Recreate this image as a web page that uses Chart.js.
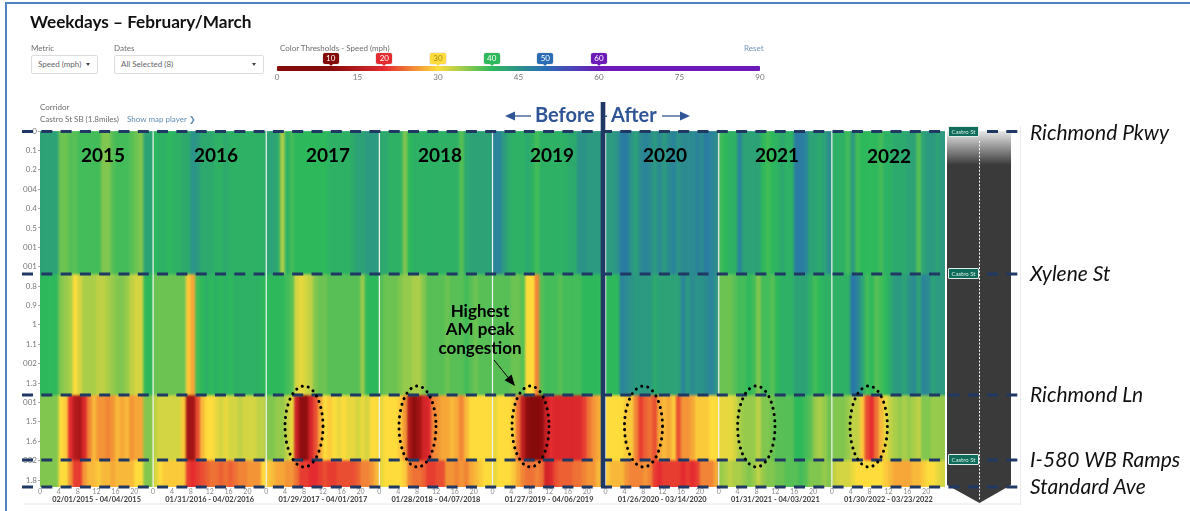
<!DOCTYPE html>
<html><head><meta charset="utf-8">
<script src="https://cdn.jsdelivr.net/npm/chart.js@4"></script>
<style>
html,body{margin:0;padding:0;width:1190px;height:511px;overflow:hidden;background:#fff;font-family:Lato,sans-serif}
canvas{position:absolute;left:0;top:0}
.t{position:absolute;white-space:nowrap;line-height:1}
.ui{color:#6d6d6d;font-size:8px}
.sel{position:absolute;box-sizing:border-box;border:1px solid #dcdcdc;border-radius:2px;height:19px;top:55px;font-size:8px;color:#666;line-height:17px;padding-left:6px;background:#fff}
.sel:after{content:"";position:absolute;right:7px;top:7px;border-left:2.5px solid transparent;border-right:2.5px solid transparent;border-top:3px solid #444}
.h{position:absolute;top:53px;height:11px;width:16px;border-radius:2px;color:#fff;font-size:8px;line-height:11px;text-align:center;box-shadow:0 0 0 .6px #ddd}
.h:after{content:"";position:absolute;left:6px;top:11px;border-left:2px solid transparent;border-right:2px solid transparent;border-top:2px solid;border-top-color:inherit}
.yr{font-weight:700;font-size:19px;color:#000;transform:translateX(-50%)}
.st{font-style:italic;font-size:21px;color:#111;left:1030px;transform:translateY(-50%)}
.sign{position:absolute;left:948px;width:29px;height:9px;background:#0f6b5a;border:1px solid #dfeee8;border-radius:1px;color:#d8eee6;font-size:6px;line-height:9px;text-align:center;overflow:hidden}
</style></head><body>
<canvas id="c" width="1190" height="511"></canvas>
<div id="ov"></div>
<script>
// ---- categories / labels ----
const years = ['2015','2016','2017','2018','2019','2020','2021','2022'];
const panelDates = ['02/01/2015 - 04/04/2015','01/31/2016 - 04/02/2016','01/29/2017 - 04/01/2017','01/28/2018 - 04/07/2018','01/27/2019 - 04/06/2019','01/26/2020 - 03/14/2020','01/31/2021 - 04/03/2021','01/30/2022 - 03/23/2022'];
const yTickLabels = ['0','0.1','0.2','004','0.4','0.5','001','001','0.8','0.9','1','1.1','002','1.3','001','1.5','1.6','002','1.8'];
const crossStreets = ['Richmond Pkwy','Xylene St','Richmond Ln','I-580 WB Ramps','Standard Ave'];
const zoneEdges = [0,0.7375,1.361,1.697,1.836]; // miles along corridor
const thresholdValues = [10,20,30,40,50,60];
const thresholdColors = ['#850a0a','#e42b30','#fddc3c','#2eb85c','#2a6db5','#6c1bb8'];

// ---- speeds (mph): one row per year, one value per hour ----
const segPkwyXylene = [
[43,43,43,43,37,37,38,38,39,39,39,39,39,36,36,38,39,39,39,38,37,36,43,43],
[40,41,41,40,41,41,42,42,45,44,42,42,42,41,41,42,41,41,41,41,41,41,41,41],
[43,43,42,34,41,39,40,40,40,40,40,40,40,41,41,41,41,41,42,43,43,44,44,44],
[42,42,41,41,41,36,40,41,41,41,41,41,41,41,41,41,41,38,42,43,43,43,43,43],
[47,47,44,42,41,41,41,42,41,39,41,41,41,41,41,41,42,42,45,45,44,44,44,44],
[44,44,45,48,48,45,43,46,47,46,44,46,44,46,47,45,46,46,46,47,46,48,47,46],
[39,40,41,41,47,43,43,43,43,40,39,40,41,42,41,41,48,48,47,43,43,42,43,46],
[41,41,41,39,44,39,40,40,40,40,39,41,41,42,42,42,43,43,38,43,44,44,43,44]];
const segXyleneRichmond = [
[40,40,40,40,36,35,34,30,32,34,34,34,33,33,34,35,36,36,35,33,32,32,40,40],
[37,37,37,37,37,37,37,29,27,39,40,41,40,41,40,41,40,41,41,41,41,41,41,40],
[40,40,40,40,39,38,32,31,32,33,36,37,37,38,38,38,38,38,38,38,35,40,40,40],
[38,37,37,37,36,35,35,34,34,36,38,38,38,38,37,38,38,38,39,38,37,38,38,38],
[38,38,38,38,37,37,38,30,30,25,38,39,39,39,38,39,39,39,39,40,40,40,40,39],
[40,40,40,47,46,45,44,44,44,44,42,43,43,43,43,43,47,44,46,45,45,46,47,45],
[37,37,37,38,39,39,40,39,36,39,39,38,40,41,41,41,43,43,43,41,39,40,41,41],
[41,41,41,41,49,47,43,39,40,38,39,40,42,44,44,43,45,46,43,47,46,43,44,44]];
const segRichmondRamps = [
[36,36,36,36,30,29,20,15,14,19,25,28,26,26,25,26,28,27,28,26,27,27,36,36],
[33,32,32,32,32,32,29,13,13,22,28,30,30,31,32,31,32,32,33,32,32,32,33,33],
[36,36,35,35,33,31,17,11,11,18,22,27,30,29,30,31,30,31,31,32,31,32,30,30],
[31,30,30,30,29,26,14,11,13,18,19,25,26,27,27,28,27,25,28,30,30,30,30,30],
[31,30,30,30,29,24,16,11,10,10,11,17,20,19,19,19,19,19,19,21,24,26,27,29],
[30,30,30,30,29,29,25,21,23,24,22,27,28,27,29,22,26,26,27,29,29,29,30,30],
[31,31,31,32,34,35,35,35,33,36,36,37,38,38,38,38,40,40,39,38,35,34,35,37],
[36,36,36,35,33,33,29,22,20,24,28,31,33,34,35,34,35,34,33,36,36,35,35,35]];
const segRampsStandard = [
[36,36,36,36,30,30,26,21,21,26,28,28,29,28,28,27,28,28,28,28,30,30,36,36],
[32,30,29,29,29,29,29,21,20,21,22,23,24,24,23,24,23,24,25,25,26,26,26,30],
[29,28,27,27,26,26,24,21,21,20,20,21,22,21,21,22,22,22,22,23,25,25,26,28],
[31,30,30,30,30,29,25,24,24,23,21,21,22,22,26,26,25,26,25,27,28,29,30,30],
[31,30,30,30,29,27,25,24,24,25,24,18,19,22,23,23,23,24,24,25,26,26,28,28],
[29,28,28,28,26,25,25,25,26,25,21,20,21,21,21,21,20,21,20,21,25,25,25,27],
[35,34,33,34,34,35,36,35,33,35,36,36,37,37,38,38,38,39,38,36,36,36,35,36],
[33,32,32,32,31,30,30,30,30,30,30,29,28,27,27,27,27,28,28,29,30,30,31,32]];
const segments = [segPkwyXylene,segXyleneRichmond,segRichmondRamps,segRampsStandard];

// ---- colour scale ----
function hex(c){return [1,3,5].map(i=>parseInt(c.substr(i,2),16));}
function speedColor(v){
  const T=thresholdValues,C=thresholdColors.map(hex);
  if(v<=T[0])return 'rgb('+C[0]+')';
  for(let i=1;i<T.length;i++){ if(v<=T[i]){const f=(v-T[i-1])/(T[i]-T[i-1]);
    return 'rgb('+C[i].map((x,k)=>Math.round(C[i-1][k]+(x-C[i-1][k])*f))+')';}}
  return 'rgb('+C[C.length-1]+')';
}

// ---- datasets: one floating bar per hour and corridor segment ----
const datasets = segments.map((seg,z)=>{
  const data=[],cols=[];
  seg.forEach((row,p)=>row.forEach((v,h)=>{
    data.push({x:p*24+h+0.5,y:[zoneEdges[z],zoneEdges[z+1]],speed:v});
    cols.push(speedColor(v));
  }));
  return {label:crossStreets[z],data,backgroundColor:cols,borderWidth:0,grouped:false,categoryPercentage:1,barPercentage:1};
});

const overlay={id:'overlay',
 afterDatasetsDraw(ch){
  const g=ch.ctx,a=ch.chartArea,X=ch.scales.x,Y=ch.scales.y;
  // soften the stripes like the source screenshot
  g.save();g.beginPath();g.rect(a.left,a.top,a.width,a.height);g.clip();
  g.filter='blur(0.9px)';
  g.drawImage(ch.canvas,a.left,a.top,a.width,a.height,a.left,a.top,a.width,a.height);
  g.filter='none';g.restore();
  // panel separators
  g.save();g.strokeStyle='#f1f4f1';g.lineWidth=1.2;
  for(let p=1;p<years.length;p++){const x=X.getPixelForValue(p*24);g.beginPath();g.moveTo(x,a.top);g.lineTo(x,a.bottom);g.stroke();}
  // corridor side strip
  const top=Y.getPixelForValue(0),bot=Y.getPixelForValue(zoneEdges[4])-2;
  const gr=g.createLinearGradient(0,top,0,top+34);gr.addColorStop(0,'#e8e8e8');gr.addColorStop(1,'#3a3a3a');
  g.fillStyle=gr;g.beginPath();g.moveTo(947,top);g.lineTo(1011,top);g.lineTo(1011,bot);g.lineTo(979.5,503);g.lineTo(947,bot);g.closePath();g.fill();
  g.strokeStyle='#fff';g.lineWidth=1;g.setLineDash([2,1.6]);g.beginPath();g.moveTo(979.5,141);g.lineTo(979.5,500);g.stroke();g.setLineDash([]);
  g.strokeStyle='#e9ebee';g.beginPath();g.moveTo(1020.5,126);g.lineTo(1020.5,505);g.stroke();
  g.fillStyle='#f2f2f2';g.fillRect(24,503,996,2);
  // frame
  g.fillStyle='#4f81bd';g.fillRect(5,2,1185,2);g.fillRect(5,2,2,509);
  // dashed cross-street lines
  g.strokeStyle='#1f3864';g.lineWidth=3;g.setLineDash([11,8.3]);
  zoneEdges.forEach(m=>{const y=Math.round(Y.getPixelForValue(m))+(m===0?0.5:0);g.beginPath();g.moveTo(22,y);g.lineTo(1021,y);g.stroke();});
  g.setLineDash([]);
  // before / after divider
  g.fillStyle='#1f3864';g.fillRect(600.7,102,4.6,a.bottom-102);
  g.fillStyle='#2f5597';g.fillRect(605,115.5,2,1.5);
  // congestion ellipses centred on the AM peak of each late panel
  g.strokeStyle='#000';g.lineWidth=3;g.lineCap='round';g.setLineDash([0.1,6.1]);
  [[304,19],[417.5,18.5],[530.5,18.5],[643.5,19],[756.3,18.7],[868.7,18.7]].forEach(e=>{g.beginPath();g.ellipse(e[0],426.5,e[1],40.5,0,0,Math.PI*2);g.stroke();});
  g.setLineDash([]);g.lineCap='butt';
  // arrows
  function arrow(x0,y0,x1,y1,col,w,hl,hw){const t=Math.atan2(y1-y0,x1-x0);g.strokeStyle=g.fillStyle=col;g.lineWidth=w;
    g.beginPath();g.moveTo(x0,y0);g.lineTo(x1-Math.cos(t)*hl*.9,y1-Math.sin(t)*hl*.9);g.stroke();
    g.beginPath();g.moveTo(x1,y1);g.lineTo(x1-hl*Math.cos(t)+hw*Math.sin(t),y1-hl*Math.sin(t)-hw*Math.cos(t));g.lineTo(x1-hl*Math.cos(t)-hw*Math.sin(t),y1-hl*Math.sin(t)+hw*Math.cos(t));g.closePath();g.fill();}
  arrow(531,116,505,116,'#2f5597',1.3,10,4.5);
  arrow(662,116,690,116,'#2f5597',1.3,10,4.5);
  arrow(494,360,515,386,'#000',1,11,4.5);
  g.restore();
  // panel date labels
  g.save();g.font='700 7.4px Lato';g.fillStyle='#3a3a3a';g.textAlign='center';g.textBaseline='middle';
  panelDates.forEach((d,p)=>g.fillText(d,X.getPixelForValue(p*24+12),499.5));
  g.restore();
 }};

new Chart(document.getElementById('c'),{type:'bar',data:{datasets},plugins:[overlay],
 options:{responsive:false,animation:false,devicePixelRatio:1,
  layout:{padding:{left:0,top:131,right:245,bottom:0}},
  plugins:{legend:{display:false},tooltip:{enabled:false}},
  scales:{
   x:{type:'linear',min:0,max:192,offset:false,afterFit(s){s.height=24;},
      grid:{display:false,drawTicks:false},border:{display:false},
      ticks:{stepSize:4,autoSkip:false,maxRotation:0,padding:1,color:'#8a8a8a',font:{family:'Lato',size:7},
        callback:v=>v===192?'':String(v%24)}},
   y:{type:'linear',min:0,max:zoneEdges[4],reverse:true,afterFit(s){s.width=40;},
      grid:{display:true,drawOnChartArea:false,drawTicks:true,tickLength:2,color:'#aaa'},border:{display:false},
      ticks:{stepSize:0.1,includeBounds:false,autoSkip:false,padding:1,color:'#777',font:{family:'Lato',size:8},
        callback:v=>yTickLabels[Math.round(v*10)]}}
  }}});

// ---- text and controls around the chart ----
const ov=document.getElementById('ov');
function add(cls,txt,css){const d=document.createElement('div');d.className=cls;d.textContent=txt;d.style.cssText=css;ov.appendChild(d);return d;}
add('t','Weekdays \u2013 February/March','left:30px;top:13px;font-weight:700;font-size:17.2px;color:#111');
add('t ui','Metric','left:31px;top:44px');add('t ui','Dates','left:114px;top:44px');
add('t ui','Color Thresholds - Speed (mph)','left:280px;top:44px');
add('t ui','Reset','left:744px;top:44px;color:#6f94b9');
add('sel','Speed (mph)','left:31px;width:67px');add('sel','All Selected (8)','left:114px;width:150px');
const sliderTicks=[0,15,30,45,60,75,90];
const sx=v=>277+v*483/90;
const stops=thresholdValues.map((v,i)=>thresholdColors[i]+' '+(v/90*100)+'%').join(',');
add('','','position:absolute;left:277px;top:66px;width:483px;height:5px;border-radius:1px;background:linear-gradient(90deg,'+stops+')');
sliderTicks.forEach(v=>add('t ui',String(v),'left:'+sx(v)+'px;top:73px;transform:translateX(-50%);color:#777'));
thresholdValues.forEach((v,i)=>{const d=add('h',String(v),'left:'+(sx(v)-8)+'px;background:'+thresholdColors[i]+';border-top-color:'+thresholdColors[i]);if(v===30)d.style.color='#a58a20';});
add('t ui','Corridor','left:40px;top:103px');add('t ui','Castro St SB (1.8miles)','left:40px;top:115px');
add('t ui','Show map player \u276F','left:127px;top:115px;color:#5f8db5');
add('t','Before','left:535px;top:104px;font-weight:700;font-size:20px;color:#2f5597');
add('t','After','left:611px;top:104px;font-weight:700;font-size:20px;color:#2f5597');
const yearCx=[103,216,328,440,552,665,777,889];
years.forEach((y,i)=>add('t yr',y,'left:'+yearCx[i]+'px;top:'+(i===7?146:145)+'px'));
['Highest','AM peak','congestion'].forEach((s,i)=>add('t',s,'left:480px;top:'+(301.5+i*18.8)+'px;transform:translateX(-50%);font-weight:700;font-size:17px;color:#000'));
const streetY=[131,272,393,458,485];
crossStreets.forEach((s,i)=>add('t st',s,'top:'+streetY[i]+'px'));
[131,273,459].forEach(y=>add('sign','Castro St','top:'+(y-5.5)+'px'));
</script></body></html>
